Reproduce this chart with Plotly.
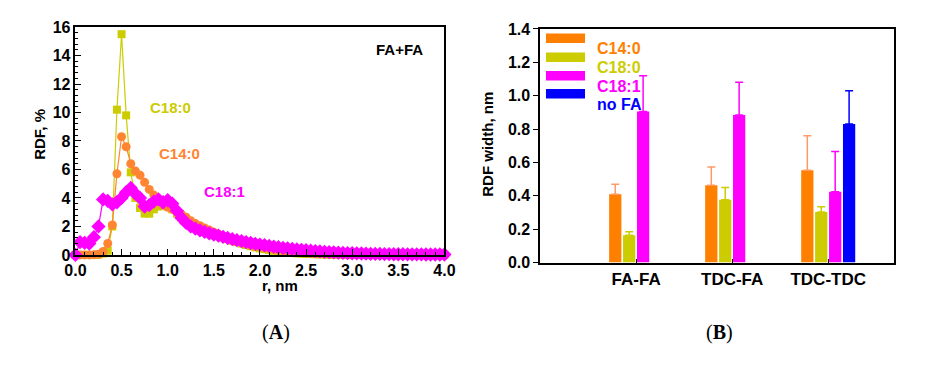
import plotly.graph_objects as go

# ---------------- data: panel A (RDF vs r) ----------------
r_nm = [0.00, 0.05, 0.10, 0.15, 0.20, 0.25, 0.30, 0.35, 0.40, 0.45,
        0.50, 0.55, 0.60, 0.65, 0.70, 0.75, 0.80, 0.85, 0.90, 0.95,
        1.00, 1.05, 1.10, 1.15, 1.20, 1.25, 1.30, 1.35, 1.40, 1.45,
        1.50, 1.55, 1.60, 1.65, 1.70, 1.75, 1.80, 1.85, 1.90, 1.95,
        2.00, 2.05, 2.10, 2.15, 2.20, 2.25, 2.30, 2.35, 2.40, 2.45,
        2.50, 2.55, 2.60, 2.65, 2.70, 2.75, 2.80, 2.85, 2.90, 2.95,
        3.00, 3.05, 3.10, 3.15, 3.20, 3.25, 3.30, 3.35, 3.40, 3.45,
        3.50, 3.55, 3.60, 3.65, 3.70, 3.75, 3.80, 3.85, 3.90, 3.95,
        4.00]

rdf_c14 = [0.0, 0.0, 0.0, 0.0, 0.02, 0.05, 0.25, 0.8, 2.1, 5.7,
           8.3, 7.6, 6.4, 5.9, 5.6, 5.1, 4.6, 4.2, 3.8, 3.5,
           3.35, 3.2, 3.0, 2.85, 2.65, 2.4, 2.2, 2.05, 1.9, 1.75,
           1.6, 1.45, 1.32, 1.2, 1.08, 0.98, 0.88, 0.79, 0.71, 0.63,
           0.56, 0.5, 0.44, 0.39, 0.34, 0.3, 0.26, 0.23, 0.2, 0.17,
           0.15, 0.13, 0.11, 0.1, 0.08, 0.07, 0.06, 0.05, 0.04, 0.04,
           0.03, 0.03, 0.02, 0.02, 0.02, 0.01, 0.01, 0.01, 0.01, 0.01,
           0.01, 0.01, 0.0, 0.0, 0.0, 0.0, 0.0, 0.0, 0.0, 0.0,
           0.0]

rdf_c180 = [0.0, 0.0, 0.0, 0.0, 0.0, 0.02, 0.1, 0.3, 2.0, 10.2,
            15.5, 9.8, 5.8, 4.0, 3.3, 2.9, 2.9, 3.2, 3.4, 3.5,
            3.4, 3.2, 2.9, 2.6, 2.35, 2.15, 2.0, 1.85, 1.72, 1.6,
            1.48, 1.36, 1.24, 1.12, 1.0, 0.9, 0.8, 0.7, 0.61, 0.53,
            0.46, 0.4, 0.34, 0.29, 0.24, 0.2, 0.17, 0.14, 0.11, 0.09,
            0.07, 0.06, 0.05, 0.04, 0.03, 0.02, 0.02, 0.01, 0.01, 0.01,
            0.0, 0.0, 0.0, 0.0, 0.0, 0.0, 0.0, 0.0, 0.0, 0.0,
            0.0, 0.0, 0.0, 0.0, 0.0, 0.0, 0.0, 0.0, 0.0, 0.0,
            0.0]

rdf_c181 = [0.0, 0.9, 0.85, 0.8, 1.25, 2.0, 3.9, 3.8, 3.55, 3.7,
            4.0, 4.4, 4.7, 4.3, 4.0, 3.4, 3.5, 3.75, 3.9, 3.7,
            3.85, 3.6, 3.1, 2.6, 2.25, 2.0, 1.85, 1.72, 1.62, 1.52,
            1.43, 1.35, 1.27, 1.19, 1.11, 1.04, 0.97, 0.9, 0.84, 0.78,
            0.73, 0.68, 0.63, 0.58, 0.54, 0.5, 0.46, 0.42, 0.39, 0.36,
            0.33, 0.3, 0.27, 0.25, 0.22, 0.2, 0.18, 0.16, 0.14, 0.13,
            0.12, 0.11, 0.1, 0.09, 0.08, 0.07, 0.07, 0.06, 0.06, 0.05,
            0.05, 0.05, 0.04, 0.04, 0.04, 0.04, 0.03, 0.03, 0.03, 0.03,
            0.03]

for s in (rdf_c14, rdf_c180, rdf_c181):
    assert len(s) == len(r_nm)

# ---------------- data: panel B (RDF width) ----------------
groups = ["FA-FA", "TDC-FA", "TDC-TDC"]
series_names = ["C14:0", "C18:0", "C18:1", "no FA"]
width_c14 = [0.41, 0.463, 0.554]
err_c14 = [0.06, 0.11, 0.206]
width_c180 = [0.164, 0.377, 0.303]
err_c180 = [0.021, 0.073, 0.032]
width_c181 = [0.905, 0.884, 0.425]
err_c181 = [0.215, 0.196, 0.24]
width_nofa = [None, None, 0.83]
err_nofa = [0, 0, 0.2]

y_ticks_a = [0, 2, 4, 6, 8, 10, 12, 14, 16]
x_ticks_a = [0.0, 0.5, 1.0, 1.5, 2.0, 2.5, 3.0, 3.5, 4.0]
y_ticks_b = [0.0, 0.2, 0.4, 0.6, 0.8, 1.0, 1.2, 1.4]

# ---------------- styles ----------------
ORANGE = "#FF8000"
ORANGE_M = "#FF8533"
ORANGE_E = "#FF9A66"
YELLOW = "#CCCC00"
MAGENTA = "#FF00FF"
BLUE = "#0000FF"
FONT = "Liberation Sans"
W, H = 925, 365


def X(px):
    return px / W


def Y(py):
    return 1 - py / H


fig = go.Figure()

# Panel A lines
fig.add_trace(go.Scatter(x=r_nm, y=rdf_c180, mode="lines+markers", cliponaxis=False,
                         line=dict(color=YELLOW, width=1.2),
                         marker=dict(symbol="square", size=8, color=YELLOW),
                         xaxis="x", yaxis="y", showlegend=False))
fig.add_trace(go.Scatter(x=r_nm, y=rdf_c14, mode="lines+markers", cliponaxis=False,
                         line=dict(color=ORANGE_M, width=1.2),
                         marker=dict(symbol="circle", size=9, color=ORANGE_M),
                         xaxis="x", yaxis="y", showlegend=False))
fig.add_trace(go.Scatter(x=r_nm, y=rdf_c181, mode="lines+markers", cliponaxis=False,
                         line=dict(color=MAGENTA, width=1.2),
                         marker=dict(symbol="diamond", size=11, color=MAGENTA),
                         xaxis="x", yaxis="y", showlegend=False))

# Panel B bars
bar_specs = [
    (width_c14, err_c14, ORANGE, ORANGE_E),
    (width_c180, err_c180, YELLOW, YELLOW),
    (width_c181, err_c181, MAGENTA, MAGENTA),
    (width_nofa, err_nofa, BLUE, BLUE),
]
for name, (vals, errs, col, ecol) in zip(series_names, bar_specs):
    fig.add_trace(go.Bar(x=groups, y=vals, name=name, marker=dict(color=col, line=dict(width=0)),
                         error_y=dict(type="data", array=errs, arrayminus=[0] * len(errs),
                                      symmetric=False, color=ecol, thickness=1.5, width=4),
                         xaxis="x2", yaxis="y2", showlegend=False))

tickfont = dict(family=FONT, size=16, color="black", weight="bold")

fig.update_layout(
    width=W, height=H,
    margin=dict(l=0, r=0, t=0, b=0),
    paper_bgcolor="white", plot_bgcolor="white",
    barmode="group", bargap=0.42, bargroupgap=0.12,
    xaxis=dict(domain=[X(66), X(444)], range=[0, 4], tickvals=x_ticks_a,
               tickformat=".1f", ticks="inside", ticklen=6, tickwidth=1.3, tickcolor="black",
               minor=dict(tickmode="linear", tick0=0, dtick=0.1, ticks="inside", ticklen=3,
                          tickcolor="black", tickwidth=1),
               showline=True, mirror=True, linecolor="black", linewidth=1.5,
               showgrid=False, zeroline=False, tickfont=tickfont, anchor="y"),
    yaxis=dict(domain=[Y(259), Y(20)], range=[0, 16], tickvals=y_ticks_a,
               ticks="inside", ticklen=6, tickwidth=1.3, tickcolor="black",
               minor=dict(tickmode="linear", tick0=0, dtick=0.4, ticks="inside", ticklen=3,
                          tickcolor="black", tickwidth=1),
               showline=True, mirror=True, linecolor="black", linewidth=1.5,
               showgrid=False, zeroline=False, tickfont=tickfont, anchor="x"),
    xaxis2=dict(domain=[X(542), X(905)], range=[-1, 2.69], type="category",
                ticks="inside", ticklen=4, tickcolor="black",
                showline=True, mirror=True, linecolor="black", linewidth=1.5,
                showgrid=False, zeroline=False,
                tickfont=dict(family=FONT, size=17, color="black", weight="bold"),
                anchor="y2"),
    yaxis2=dict(domain=[Y(267), Y(22)], range=[0, 1.4], tickvals=y_ticks_b, tickformat=".1f",
                ticks="outside", ticklen=5, tickcolor="black",
                showline=True, mirror=True, linecolor="black", linewidth=1.5,
                showgrid=False, zeroline=False, tickfont=tickfont, anchor="x2"),
)

ann = []
# axis titles
ann.append(dict(x=X(19), y=Y(133), text="RDF, %", textangle=-90, showarrow=False,
                font=dict(family=FONT, size=15, color="black", weight="bold")))
ann.append(dict(x=X(255), y=Y(302), text="r, nm", showarrow=False,
                font=dict(family=FONT, size=15, color="black", weight="bold")))
ann.append(dict(x=X(488), y=Y(143), text="RDF width, nm", textangle=-90, showarrow=False,
                font=dict(family=FONT, size=15, color="black", weight="bold")))
# panel A labels
ann.append(dict(x=X(398), y=Y(33), text="FA+FA", showarrow=False,
                font=dict(family=FONT, size=15, color="black", weight="bold")))
ann.append(dict(x=X(140), y=Y(93), text="C18:0", showarrow=False,
                font=dict(family=FONT, size=15, color=YELLOW, weight="bold")))
ann.append(dict(x=X(150), y=Y(153), text="C14:0", showarrow=False,
                font=dict(family=FONT, size=15, color=ORANGE_M, weight="bold")))
ann.append(dict(x=X(196), y=Y(192), text="C18:1", showarrow=False,
                font=dict(family=FONT, size=15, color=MAGENTA, weight="bold")))
# captions
ann.append(dict(x=X(255), y=Y(354), text="(<b>A</b>)", showarrow=False,
                font=dict(family="Liberation Serif", size=20, color="black")))
ann.append(dict(x=X(742), y=Y(354), text="(<b>B</b>)", showarrow=False,
                font=dict(family="Liberation Serif", size=20, color="black")))

# legend for panel B (drawn manually)
shapes = []
legend_rows = [31.7, 51.7, 71, 90]
legend_cols = [ORANGE, YELLOW, MAGENTA, BLUE]
for name, col, yc in zip(series_names, legend_cols, legend_rows):
    shapes.append(dict(type="rect", xref="paper", yref="paper",
                       x0=X(548), x1=X(588), y0=Y(yc + 5), y1=Y(yc - 5),
                       fillcolor=col, line=dict(width=0)))
    ann.append(dict(x=X(598), y=Y(yc), text=name, xanchor="left", showarrow=False,
                    font=dict(family=FONT, size=16, color=col, weight="bold")))

for a in ann:
    a.setdefault("xref", "paper")
    a.setdefault("yref", "paper")

fig.update_layout(annotations=ann, shapes=shapes)

fig.write_html("out.html")
